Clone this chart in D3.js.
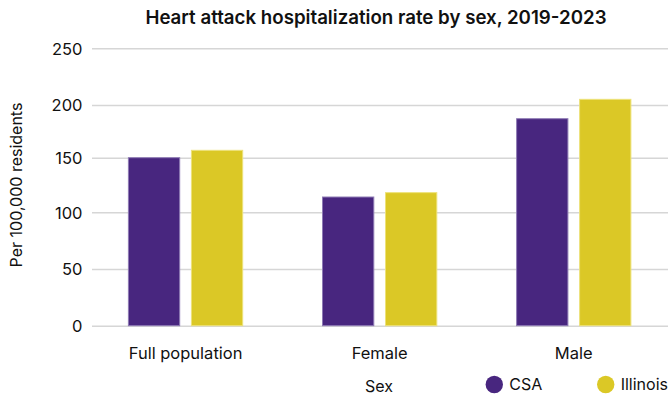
<!DOCTYPE html>
<html>
<head>
<meta charset="utf-8">
<script src="https://cdn.jsdelivr.net/npm/d3@7/dist/d3.min.js"></script>
<style>
  html, body { margin: 0; padding: 0; background: #fff; }
  svg { display: block; }
  text { font-family: "Inter", "Liberation Sans", sans-serif; fill: #111; }
</style>
</head>
<body>
<svg id="chart" width="672" height="412"></svg>
<script>
const categories = ["Full population", "Female", "Male"];
const seriesNames = ["CSA", "Illinois"];
const csaValues = [150, 114, 187];
const illinoisValues = [157, 118, 205];
const yTicks = [0, 50, 100, 150, 200, 250];
const colors = ["#48267f", "#dbc826"];
const strokes = ["#8e7ab4", "#ede27a"];

const data = categories.map((c, i) => ({
  category: c,
  values: [
    { series: seriesNames[0], value: csaValues[i] },
    { series: seriesNames[1], value: illinoisValues[i] }
  ]
}));

const svg = d3.select("#chart");

const x0 = d3.scaleBand().domain(categories).range([88.5, 670.8])
  .paddingInner(0.406).paddingOuter(0.203);
const x1 = d3.scaleBand().domain(seriesNames).range([0, x0.bandwidth()])
  .paddingInner(0.17).paddingOuter(0);
// axis as drawn in the reference (gridline spacing not perfectly even)
const y = d3.scaleLinear().domain(yTicks).range([325.7, 269, 212.3, 157.7, 105, 48.3]);
const color = d3.scaleOrdinal().domain(seriesNames).range(colors);
const strokeC = d3.scaleOrdinal().domain(seriesNames).range(strokes);

// gridlines
const yAxis = d3.axisLeft(y).tickValues(yTicks).tickSize(-(668 - 92)).tickPadding(9);
const gy = svg.append("g").attr("transform", "translate(92,0)").call(yAxis);
gy.select(".domain").remove();
gy.selectAll(".tick line").attr("stroke", "#d6d6d6").attr("stroke-width", 1.6);
gy.selectAll(".tick text")
  .style("font-size", "16.5px").style("fill", "#111")
  .attr("x", -9.5)
  .attr("dy", "0.36em");

// bars
const groups = svg.append("g").selectAll("g").data(data).join("g")
  .attr("transform", d => `translate(${x0(d.category)},0)`);
groups.selectAll("rect").data(d => d.values).join("rect")
  .attr("x", d => x1(d.series) + 0.5)
  .attr("width", x1.bandwidth() - 1)
  .attr("y", d => y(d.value))
  .attr("height", d => y(0) - y(d.value))
  .attr("fill", d => color(d.series))
  .attr("stroke", d => strokeC(d.series))
  .attr("stroke-width", 1);

// x axis labels
const xAxis = d3.axisBottom(x0).tickSize(0).tickPadding(0);
const gx = svg.append("g").attr("transform", "translate(0,359)").call(xAxis);
gx.select(".domain").remove();
gx.selectAll(".tick text")
  .style("font-size", "16.5px").style("fill", "#111")
  .attr("y", 0).attr("dy", 0);

// title
svg.append("text")
  .attr("x", 376).attr("y", 24)
  .attr("text-anchor", "middle")
  .style("font-size", "18.7px").style("font-weight", 600)
  .text("Heart attack hospitalization rate by sex, 2019-2023");

// y label
svg.append("text")
  .attr("transform", "translate(22,185) rotate(-90)")
  .attr("text-anchor", "middle")
  .style("font-size", "16px")
  .text("Per 100,000 residents");

// x title
svg.append("text")
  .attr("x", 379).attr("y", 392)
  .attr("text-anchor", "middle")
  .style("font-size", "16px")
  .text("Sex");

// legend
const legendX = [494.3, 605.7];
const leg = svg.append("g").selectAll("g").data(seriesNames).join("g")
  .attr("transform", (d, i) => `translate(${legendX[i]},384.5)`);
leg.append("circle").attr("r", 8.7).attr("fill", d => color(d));
leg.append("text").attr("x", 15).attr("y", 0).attr("dy", "0.36em")
  .style("font-size", "16px")
  .text(d => d);
</script>
</body>
</html>
